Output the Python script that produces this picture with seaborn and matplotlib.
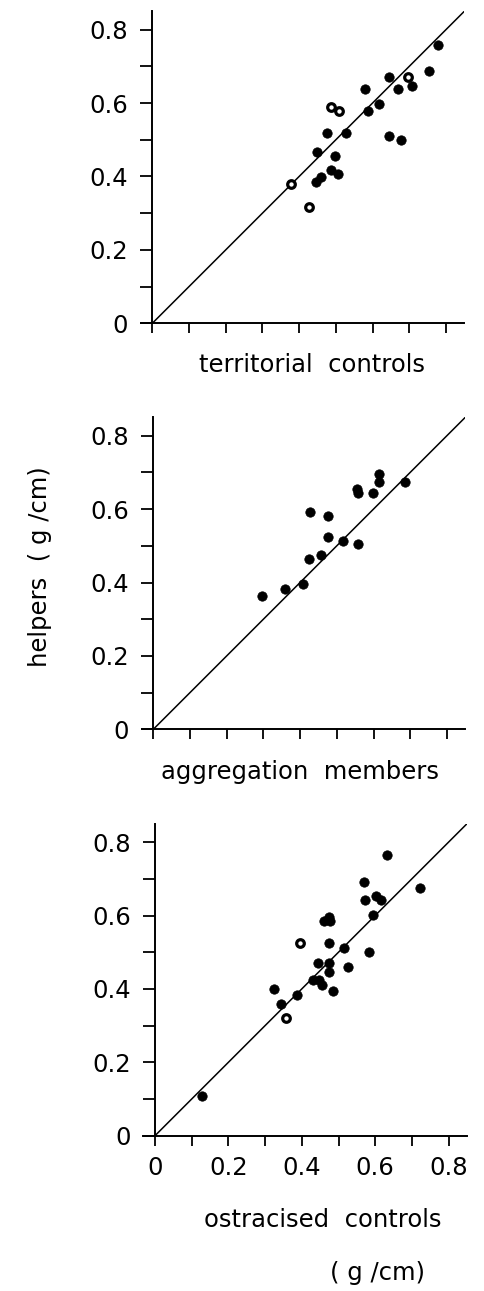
import numpy as np
import pandas as pd
import matplotlib
matplotlib.use('Agg')
import matplotlib.pyplot as plt
import seaborn as sns

# helpers vs. territorial controls
terr_x = [0.378, 0.427, 0.446, 0.460, 0.448, 0.477, 0.487, 0.510, 0.498, 0.487, 0.506, 0.527,
          0.579, 0.587, 0.618, 0.646, 0.669, 0.696, 0.708, 0.755, 0.778, 0.646, 0.678]
terr_y = [0.379, 0.316, 0.386, 0.399, 0.466, 0.519, 0.589, 0.578, 0.456, 0.418, 0.408, 0.519,
          0.639, 0.578, 0.598, 0.670, 0.638, 0.670, 0.647, 0.687, 0.759, 0.510, 0.499]
terr_open = [1, 1, 0, 0, 0, 0, 1, 1, 0, 0, 0, 0,
             0, 0, 0, 0, 0, 1, 0, 0, 0, 0, 0]

# helpers vs. aggregation members
aggr_x = [0.295, 0.358, 0.407, 0.425, 0.456, 0.426, 0.476, 0.477, 0.518, 0.559, 0.556, 0.558,
          0.598, 0.614, 0.615, 0.686]
aggr_y = [0.363, 0.383, 0.395, 0.463, 0.474, 0.593, 0.582, 0.525, 0.512, 0.504, 0.655, 0.645,
          0.645, 0.673, 0.695, 0.674]
aggr_open = [0] * len(aggr_x)

# helpers vs. ostracised controls
ostr_x = [0.127, 0.325, 0.344, 0.356, 0.386, 0.396, 0.431, 0.447, 0.455, 0.445, 0.475, 0.475,
          0.484, 0.475, 0.461, 0.476, 0.473, 0.515, 0.526, 0.582, 0.593, 0.573, 0.570, 0.603,
          0.615, 0.631, 0.723]
ostr_y = [0.108, 0.399, 0.360, 0.320, 0.384, 0.524, 0.424, 0.424, 0.410, 0.471, 0.471, 0.447,
          0.393, 0.524, 0.584, 0.585, 0.595, 0.512, 0.459, 0.501, 0.602, 0.641, 0.692, 0.652,
          0.641, 0.764, 0.674]
ostr_open = [0, 0, 0, 1, 0, 1, 0, 0, 0, 0, 0, 0,
             0, 0, 0, 0, 0, 0, 0, 0, 0, 0, 0, 0,
             0, 0, 0]

panel_labels = ['territorial  controls', 'aggregation  members', 'ostracised  controls']
tick_vals = [0, 0.2, 0.4, 0.6, 0.8]
tick_text = ['0', '0.2', '0.4', '0.6', '0.8']

sns.set_style('ticks', {'axes.edgecolor': 'black', 'text.color': 'black',
                        'xtick.color': 'black', 'ytick.color': 'black'})
plt.rcParams['font.family'] = ['DejaVu Sans']
FS = 17.5

fig = plt.figure(figsize=(4.84, 12.91), dpi=100)
W, H = 484, 1291

# axes placement in pixels: (origin x, origin y from top)
origins = [(152.3, 323.3), (153.3, 729.3), (155.0, 1135.7)]
scale = 367.0  # pixels per unit
xmin, xmax, ymax = -0.032, 0.85, 0.85

panels = [(terr_x, terr_y, terr_open), (aggr_x, aggr_y, aggr_open), (ostr_x, ostr_y, ostr_open)]

for i, ((ox, oy), (xs, ys, op)) in enumerate(zip(origins, panels)):
    left = (ox + xmin * scale) / W
    width = (xmax - xmin) * scale / W
    bottom = (H - oy) / H
    height = ymax * scale / H
    ax = fig.add_axes([left, bottom, width, height])

    df = pd.DataFrame({'x': xs, 'y': ys, 'open': op})
    sns.scatterplot(data=df[df['open'] == 0], x='x', y='y', ax=ax, color='black',
                    s=46, edgecolor='black', linewidth=0.5, zorder=3)
    sns.scatterplot(data=df[df['open'] == 1], x='x', y='y', ax=ax, color='white',
                    s=30, edgecolor='black', linewidth=2.3, zorder=3)
    ax.axline((0, 0), slope=1, color='black', lw=1.1, zorder=2)

    ax.set_xlim(xmin, xmax)
    ax.set_ylim(0, ymax)
    ax.spines['left'].set_position(('data', 0))
    ax.spines['top'].set_visible(False)
    ax.spines['right'].set_visible(False)
    for sp in ('left', 'bottom'):
        ax.spines[sp].set_linewidth(1.4)

    ax.set_xticks(tick_vals)
    ax.set_xticks([0.1, 0.3, 0.5, 0.7], minor=True)
    if i == 2:
        ax.set_xticklabels(tick_text)
    else:
        ax.set_xticklabels([])
    ax.set_yticks(tick_vals)
    ax.set_yticks([0.1, 0.3, 0.5, 0.7], minor=True)
    ax.set_yticklabels(tick_text)
    ax.tick_params(axis='x', which='both', direction='out', length=7.5, width=1.3,
                   pad=7, labelsize=FS)
    ax.tick_params(axis='y', which='both', direction='out', length=8.5, width=1.3,
                   pad=9, labelsize=FS)
    ax.set_xlabel('')
    ax.set_ylabel('')

# panel captions
fig.text(312 / W, 1 - 365 / H, panel_labels[0], ha='center', va='center', fontsize=FS)
fig.text(300 / W, 1 - 772 / H, panel_labels[1], ha='center', va='center', fontsize=FS)
fig.text(323 / W, 1 - 1220 / H, panel_labels[2], ha='center', va='center', fontsize=FS)
fig.text(378 / W, 1 - 1273 / H, '( g /cm)', ha='center', va='center', fontsize=FS)
fig.text(40 / W, 1 - 567 / H, 'helpers  ( g /cm)', ha='center', va='center',
         rotation=90, fontsize=FS)

plt.savefig('out.png', dpi=100)
